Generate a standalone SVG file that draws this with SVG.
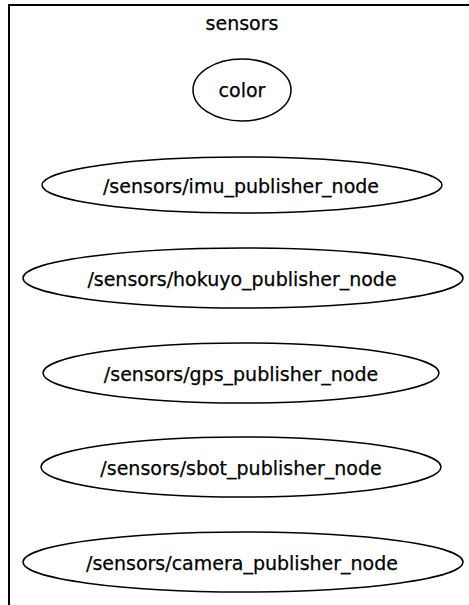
<svg xmlns="http://www.w3.org/2000/svg" width="469" height="605" viewBox="0 0 469 605">
  <style>
    .cluster { fill: none; stroke: #000; stroke-width: 2; }
    .node ellipse { fill: none; stroke: #000; stroke-width: 1.5; }
    text { font-family: "DejaVu Sans", sans-serif; font-size: 19px; fill: #000; text-anchor: middle; stroke: #000; stroke-width: 0.25; }
  </style>
  <rect width="469" height="605" fill="#fff"/>
  <!-- cluster: sensors (continues past the right and bottom edges) -->
  <g id="cluster_sensors">
    <rect class="cluster" x="9" y="5" width="480" height="620"/>
    <text x="242" y="30">sensors</text>
  </g>
  <g id="color" class="node">
    <ellipse cx="242" cy="90" rx="49" ry="31"/>
    <text x="242" y="97">color</text>
  </g>
  <g id="imu_publisher_node" class="node">
    <ellipse cx="242" cy="185" rx="200" ry="28"/>
    <text x="241" y="192.5">/sensors/imu_publisher_node</text>
  </g>
  <g id="hokuyo_publisher_node" class="node">
    <ellipse cx="243" cy="278" rx="220" ry="30"/>
    <text x="242" y="286">/sensors/hokuyo_publisher_node</text>
  </g>
  <g id="gps_publisher_node" class="node">
    <ellipse cx="241" cy="373" rx="198" ry="30"/>
    <text x="241" y="380.5">/sensors/gps_publisher_node</text>
  </g>
  <g id="sbot_publisher_node" class="node">
    <ellipse cx="241" cy="467" rx="200" ry="30"/>
    <text x="241" y="474.5">/sensors/sbot_publisher_node</text>
  </g>
  <g id="camera_publisher_node" class="node">
    <ellipse cx="243" cy="562" rx="220" ry="30"/>
    <text x="242" y="569.5">/sensors/camera_publisher_node</text>
  </g>
  <g id="connectors"/>
</svg>
